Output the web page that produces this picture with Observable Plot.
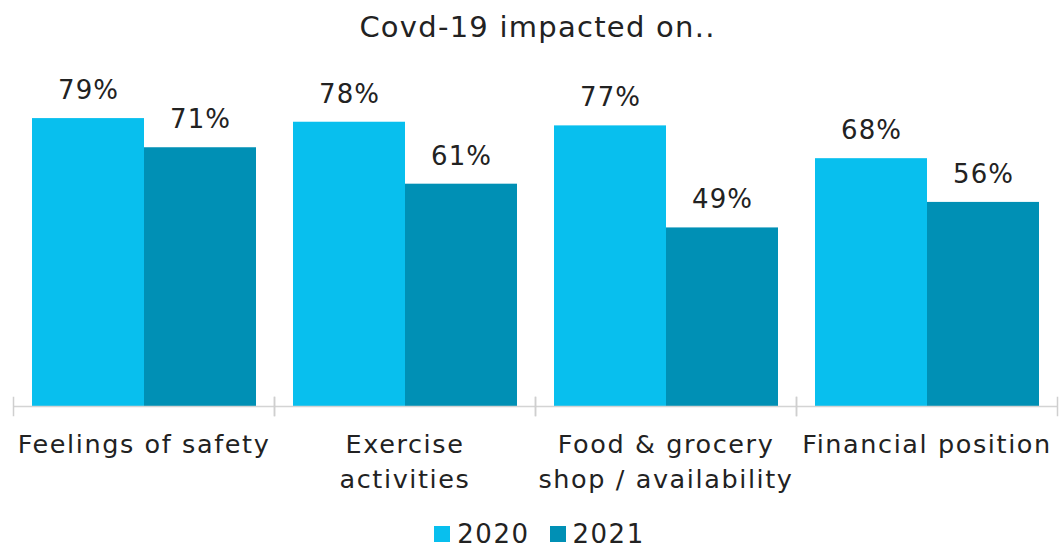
<!DOCTYPE html>
<html>
<head>
<meta charset="utf-8">
<script src="https://cdn.jsdelivr.net/npm/d3@7"></script>
<script src="https://cdn.jsdelivr.net/npm/@observablehq/plot@0.6"></script>
<style>
  html, body { margin: 0; padding: 0; background: #fff; }
  body { width: 1059px; height: 549px; overflow: hidden; font-family: "DejaVu Sans", sans-serif; color: #222; }
  #title { height: 58px; line-height: 54px; text-align: center; font-size: 29px; padding-left: 16px; box-sizing: border-box; letter-spacing: 1.25px; }
  #legend { height: 35px; line-height: 30px; display: flex; justify-content: center; align-items: center; gap: 20px; font-size: 26px; padding-left: 20px; padding-top: 4px; box-sizing: border-box; letter-spacing: 1.5px; }
  .sw { display: inline-block; width: 16px; height: 16px; margin-right: 7px; }
  .item { display: flex; align-items: center; }
  svg { display: block; }
  g[aria-label="fx-axis tick label"] { letter-spacing: 1.6px; }
  g[aria-label="text"] { letter-spacing: 1px; }
</style>
</head>
<body>
<div id="title">Covd-19 impacted on..</div>
<div id="chart"></div>
<div id="legend"></div>
<script>
const categories = ["Feelings of safety", "Exercise\nactivities", "Food & grocery\nshop / availability", "Financial position"];
const years = ["2020", "2021"];
const values2020 = [79, 78, 77, 68];
const values2021 = [71, 61, 49, 56];
const colors = ["#08BFEE", "#0090B5"];

const data = [];
categories.forEach((c, i) => {
  data.push({category: c, year: years[0], value: values2020[i]});
  data.push({category: c, year: years[1], value: values2021[i]});
});

const fxAxis = Plot.axisFx
  ? Plot.axisFx({anchor: "bottom", tickSize: 0, tickPadding: 13, label: null, fontSize: 25.5, lineHeight: 1.36, fill: "#222"})
  : null;

const chart = Plot.plot({
  width: 1059,
  height: 456,
  marginLeft: 13,
  marginRight: 2,
  marginTop: 20,
  marginBottom: 99,
  style: {fontFamily: "DejaVu Sans, sans-serif", fontSize: "25px", color: "#222", background: "#fff"},
  fx: {domain: categories, padding: 0, label: null, axis: fxAxis ? null : "bottom", tickSize: 0, tickPadding: 13},
  x: {domain: years, paddingInner: 0, paddingOuter: 0.16, axis: null},
  y: {domain: [0, 90], axis: null, insetBottom: 9},
  color: {domain: years, range: colors},
  marks: [
    Plot.barY(data, {fx: "category", x: "year", y: "value", fill: "year"}),
    Plot.ruleY([0], {stroke: "#d4d4d4", strokeWidth: 1.5}),
    Plot.frame({anchor: "left", stroke: "#cfcfcf", strokeWidth: 1.5, insetTop: 319}),
    Plot.frame({anchor: "right", stroke: "#cfcfcf", strokeWidth: 1.5, insetTop: 319}),
    Plot.text(data, {fx: "category", x: "year", y: "value", text: d => d.value + "%", dy: -28, fontSize: 26, fill: "#222"}),
    fxAxis
  ]
});
document.getElementById("chart").appendChild(chart);

const legend = document.getElementById("legend");
years.forEach((y, i) => {
  const item = document.createElement("span");
  item.className = "item";
  item.innerHTML = `<span class="sw" style="background:${colors[i]}"></span>${y}`;
  legend.appendChild(item);
});
</script>
</body>
</html>
